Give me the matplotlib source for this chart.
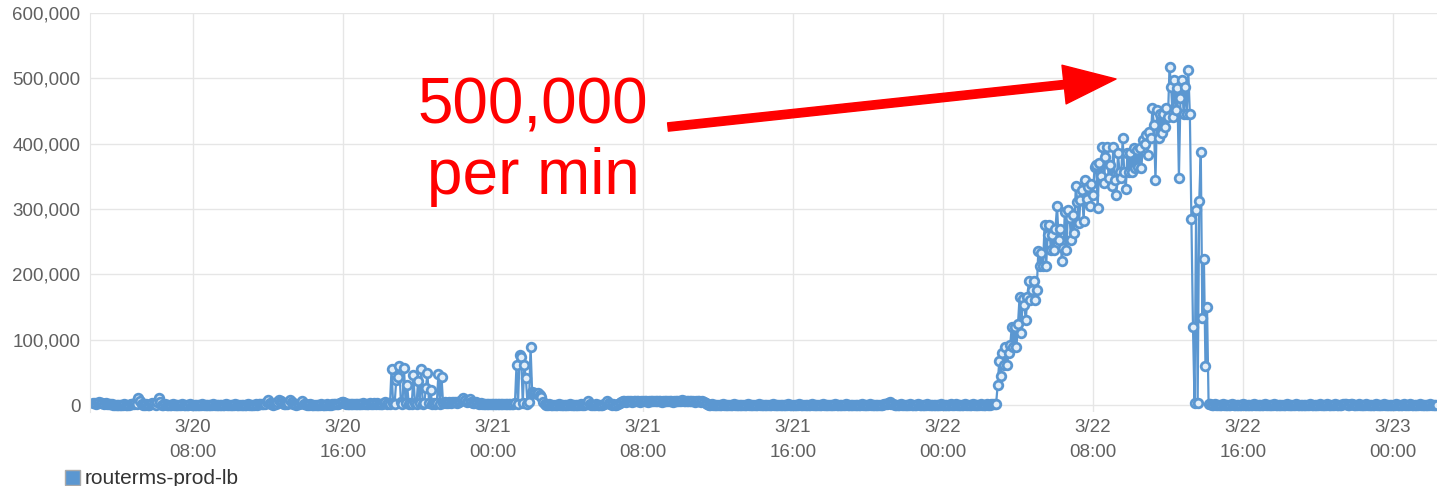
import matplotlib
matplotlib.use("Agg")
import numpy as np
import pandas as pd
import matplotlib.pyplot as plt
import matplotlib.dates as mdates
from matplotlib.ticker import FuncFormatter, MultipleLocator
from matplotlib.patches import Rectangle

plt.rcParams['font.family'] = ['Liberation Sans', 'DejaVu Sans']

# requests per minute, in thousands, sampled every 5 minutes
# each segment: (start time, values)
seg_overnight_0320 = [
    3, 3, 2, 3, 4, 3, 3, 2, 3, 2, 2, 1,
    1, 0, 0, 0, 0, 0, 0, 0, 1, 0, 0, 0,
    1, 1, 2, 3, 2, 10, 6, 1, 0, 0, 1, 0,
    0, 2, 3, 1, 0, 5, 10, 4, 0, 0, 1, 0,
    0, 0, 0, 1, 0, 0, 0, 0, 0, 1, 0, 0,
    0, 0, 1, 0, 0, 0, 0, 0, 0, 0, 1, 0,
    0, 0, 0, 0, 0, 1, 0, 0, 0, 0, 0, 0,
    0, 1, 0, 0, 0, 0, 0, 1, 0, 0, 0, 0,
    0, 0, 0, 1, 0, 0, 0, 0, 1, 0, 1, 1,
    1, 2, 1, 4, 7, 3, 1, 0, 1, 2, 4, 8,
    6, 3, 1, 2, 1, 3, 8, 5, 2, 1, 0, 1,
    2, 3, 6, 2, 1, 0, 0, 1, 0, 0, 0, 0,
    0, 0, 1, 0, 0, 0, 1, 0, 0, 1, 1, 2,
    2, 2, 3, 4, 4, 3, 2, 1, 1, 2, 1, 1,
    1, 2, 1, 1, 2, 3, 2, 1, 2, 3, 2, 2,
    3, 2, 3, 2, 1, 2, 3, 4, 2, 3, 1,
]
seg_spikes_0320 = [
    55, 3, 2, 38, 43, 59, 4, 2, 56, 3, 31, 2,
    3, 2, 46, 3, 2, 37, 3, 55, 2, 3, 26, 49,
    3, 23, 2, 3, 2, 3, 48, 2, 43, 3,
]
seg_late_0320 = [
    4, 3, 3, 4, 3, 4, 5, 4, 3, 4, 6, 8,
    10, 7, 4, 6, 9, 5, 3, 3, 4, 3, 2, 3,
    2, 2, 1, 1, 2, 1, 1, 1, 2, 1, 1, 1,
    1, 1, 2, 1, 1, 1, 2, 1, 2, 3,
]
seg_spike_0321 = [61, 2, 77, 74, 3, 61, 41, 2, 5, 89, 20, 18, 19, 17, 18, 16, 13, 5, 1]
seg_early_0321 = [
    0, 0, 1, 0, 0, 0, 0, 0, 1, 0, 0, 0,
    0, 0, 0, 1, 0, 0, 0, 0, 0, 0, 1, 0,
    0, 1, 2, 6, 2, 0, 0, 0, 1, 0, 0, 0,
    0, 1, 3, 6, 3, 1, 0, 1, 0, 0, 2, 3,
    5,
]
seg_plateau_0321 = [
    6, 6, 5, 6, 6, 6, 5, 6, 6, 6, 6, 5,
    6, 6, 6, 6, 5, 6, 6, 6, 6, 6, 6, 6,
    6, 5, 6, 6, 6, 6, 6, 6, 5, 6, 6, 6,
    6, 6, 7, 6, 6, 6, 6, 6, 6, 6, 5, 6,
    6, 6, 5, 6, 5, 3, 1,
]
seg_quiet_0321 = [
    0, 0, 1, 0, 0, 0, 0, 0, 0, 1, 0, 0,
    0, 0, 0, 0, 1, 0, 0, 0, 0, 0, 0, 0,
    0, 1, 0, 0, 0, 0, 0, 0, 1, 0, 0, 0,
    0, 0, 0, 0, 0, 1, 0, 0, 0, 0, 0, 0,
    0, 0, 0, 1, 0, 0, 0, 0, 0, 0, 1, 0,
    0, 0, 0, 0, 0, 0, 1, 0, 0, 0, 0, 0,
    0, 1, 0, 0, 0, 0, 0, 0, 0, 1, 0, 0,
    0, 0, 0, 0, 1, 0, 0, 0, 0, 0, 0, 0,
    0, 0, 1, 0, 0, 0, 0, 1, 0, 0, 0, 0,
    0, 0, 0, 0, 1, 1, 2, 3, 4, 2, 1, 0,
    0, 0, 0, 1, 0, 0, 0, 0, 0, 1, 0, 0,
    0, 0, 1, 0, 0, 0, 0, 0, 1, 0, 0, 0,
    0, 0, 0, 0, 0, 1, 0, 0, 0, 0, 0, 1,
    0, 0, 1, 0, 0, 0, 0, 0, 1, 0, 0, 0,
    0, 1, 0, 0, 0, 0, 1, 0, 0, 0, 1, 0,
    0, 1, 1, 2,
]
seg_surge_0322 = [
    2, 31, 68, 44, 79, 61, 89, 61, 79, 92, 119, 89,
    119, 89, 124, 165, 110, 163, 153, 130, 165, 190, 161, 176,
    190, 161, 176, 236, 212, 232, 212, 276, 212, 260, 276, 237,
    260, 237, 270, 305, 253, 270, 220, 240, 296, 237, 298, 286,
    253, 291, 263, 335, 311, 278, 314, 329, 281, 344, 316, 334,
    305, 339, 321, 365, 367, 301, 370, 350, 395, 340, 379, 395,
    347, 367, 335, 395, 344, 322, 385, 357, 347, 408, 357, 330,
    385, 357, 385, 357, 393, 362, 390, 365, 393, 362, 405, 400,
    413, 383, 418, 408, 454, 429, 344, 452, 408, 446, 416, 446,
    425, 454, 441, 518, 487, 441, 497, 452, 485, 348, 470, 497,
    446, 487, 446, 512, 446, 285, 120, 3, 298, 3, 312, 387,
    133, 224, 59, 150, 2,
]
seg_after_0322 = [
    1, 0, 0, 1, 0, 0, 0, 0, 1, 0, 0, 0,
    0, 0, 1, 0, 0, 0, 0, 0, 0, 1, 0, 0,
    0, 0, 0, 0, 1, 0, 0, 0, 0, 0, 0, 1,
    0, 0, 0, 0, 0, 1, 0, 0, 0, 0, 0, 0,
    0, 1, 0, 0, 0, 0, 0, 1, 0, 0, 0, 0,
    0, 0, 0, 0, 1, 0, 0, 0, 0, 0, 1, 0,
    0, 0, 0, 1, 0, 0, 0, 0, 1, 0, 0, 0,
    0, 1, 2, 1, 0, 0, 2, 1, 0, 0, 0, 1,
    0, 0, 0, 0, 1, 0, 0, 0, 0, 0, 1, 0,
    0, 0, 0, 1, 0, 0, 0, 0, 0, 0, 0, 1,
    0, 0, 0, 0, 1, 0, 0, 0, 1, 0, 0, 0,
    0, 0, 1, 0, 0, 0, 0, 0, 0, 1, 0, 0,
    0, 0,
]

segments = [
    ("2015-03-20 02:40", seg_overnight_0320),
    ("2015-03-20 18:35", seg_spikes_0320),
    ("2015-03-20 21:25", seg_late_0320),
    ("2015-03-21 01:15", seg_spike_0321),
    ("2015-03-21 02:50", seg_early_0321),
    ("2015-03-21 06:55", seg_plateau_0321),
    ("2015-03-21 11:30", seg_quiet_0321),
    ("2015-03-22 02:50", seg_surge_0322),
    ("2015-03-22 14:15", seg_after_0322),
]

times = []
values = []
for start, vals in segments:
    times.extend(pd.date_range(start, periods=len(vals), freq="5min"))
    values.extend(vals)
times = pd.DatetimeIndex(times)
values = np.array(values) * 1000

blue = "#5b97d1"
grid_c = "#e6e6e6"
text_c = "#606060"

fig = plt.figure(figsize=(14.37, 4.86), dpi=100)
ax = fig.add_axes([90 / 1437, 1 - 412 / 486, 1 - 90 / 1437, (412 - 13) / 486])

ax.plot(times, values, "-", color=blue, lw=1.6, marker="o", markersize=6.2,
        markerfacecolor="#e3eef8", markeredgecolor=blue, markeredgewidth=2.0)

ax.set_xlim(pd.Timestamp("2015-03-20 02:30"), pd.Timestamp("2015-03-23 02:21"))
ax.set_ylim(-10700, 600000)
ax.yaxis.set_major_locator(MultipleLocator(100000))
ax.yaxis.set_major_formatter(FuncFormatter(lambda v, p: f"{int(v):,}"))
ax.xaxis.set_major_locator(mdates.HourLocator(byhour=[0, 8, 16]))
ax.xaxis.set_major_formatter(FuncFormatter(
    lambda v, p: "{d.month}/{d.day}\n{d:%H:%M}".format(d=mdates.num2date(v))))

ax.grid(True, color=grid_c, lw=1)
ax.set_axisbelow(True)
for s in ["top", "right", "bottom"]:
    ax.spines[s].set_visible(False)
ax.spines["left"].set_color(grid_c)
ax.tick_params(length=0, labelsize=13.5, colors=text_c)
ax.tick_params(axis="y", pad=7)
ax.tick_params(axis="x", pad=5)
for lab in ax.get_xticklabels():
    lab.set_linespacing(1.65)

# annotation
fig.text(533 / 1437, 1 - 124 / 486, "500,000", color="#ff0000", fontsize=46,
         ha="center", va="baseline")
fig.text(533 / 1437, 1 - 194 / 486, "per min", color="#ff0000", fontsize=46,
         ha="center", va="baseline")
ax.annotate("", xy=(1116 / 1437, 1 - 79 / 486), xytext=(668 / 1437, 1 - 127 / 486),
            xycoords="figure fraction", textcoords="figure fraction",
            arrowprops=dict(arrowstyle="simple,head_length=0.94,head_width=0.7,tail_width=0.15",
                            mutation_scale=40, color="#ff0000", shrinkA=0, shrinkB=0))

# legend
fig.patches.append(Rectangle((65 / 1437, 1 - 485 / 486), 15 / 1437, 15 / 486,
                             transform=fig.transFigure, facecolor=blue,
                             edgecolor="#aaaaaa", lw=1))
fig.text(85 / 1437, 1 - 484 / 486, "routerms-prod-lb", color="#333333",
         fontsize=15, ha="left", va="baseline")

fig.savefig("out.png", dpi=100)
